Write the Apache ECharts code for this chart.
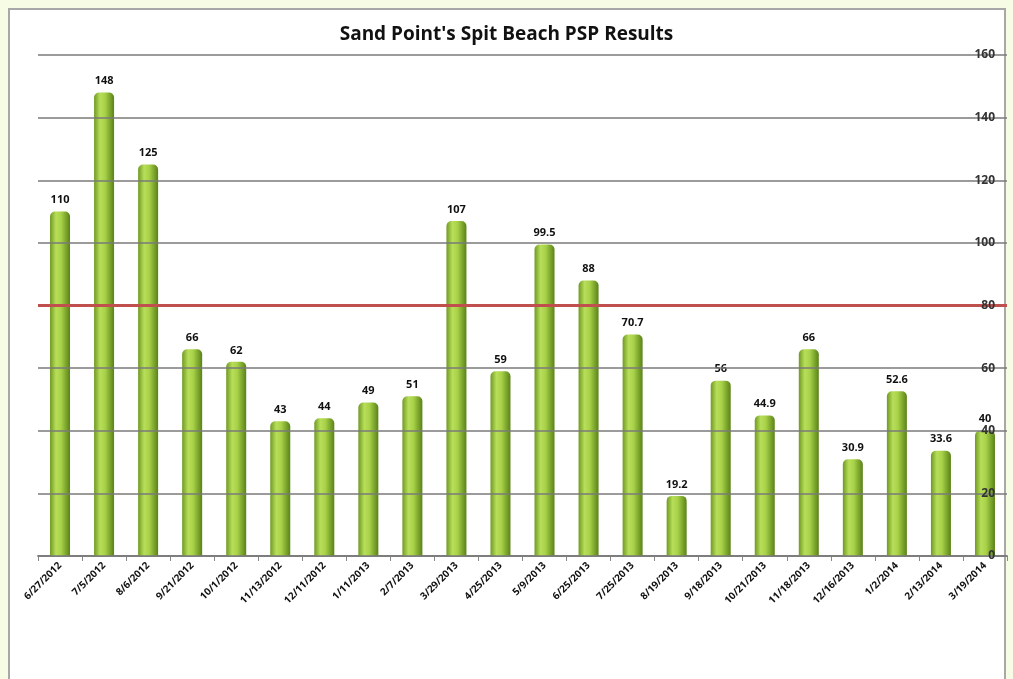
<!DOCTYPE html>
<html>
<head>
<meta charset="utf-8">
<script src="https://cdn.jsdelivr.net/npm/echarts@6/dist/echarts.min.js"></script>
<style>
  html, body { margin: 0; padding: 0; background: #f6fde4; }
  #chart { width: 1013px; height: 679px; }
</style>
</head>
<body>
<div id="chart"></div>
<script>
// sample dates and PSP results
var dates = ['6/27/2012', '7/5/2012', '8/6/2012', '9/21/2012', '10/1/2012', '11/13/2012',
  '12/11/2012', '1/11/2013', '2/7/2013', '3/29/2013', '4/25/2013', '5/9/2013', '6/25/2013',
  '7/25/2013', '8/19/2013', '9/18/2013', '10/21/2013', '11/18/2013', '12/16/2013',
  '1/2/2014', '2/13/2014', '3/19/2014'];
var results = [110, 148, 125, 66, 62, 43, 44, 49, 51, 107, 59, 99.5, 88, 70.7, 19.2, 56,
  44.9, 66, 30.9, 52.6, 33.6, 40];
var limit = 80; // closure level

var chart = echarts.init(document.getElementById('chart'));

var barColor = new echarts.graphic.LinearGradient(0, 0, 1, 0, [
  { offset: 0, color: '#6f9a22' },
  { offset: 0.3, color: '#b8de5a' },
  { offset: 0.55, color: '#a8d248' },
  { offset: 1, color: '#5a8218' }
]);

option = {
  backgroundColor: '#f6fde4',
  animation: false,
  graphic: [{
    type: 'rect',
    z: -1,
    shape: { x: 9, y: 9, width: 996, height: 690 },
    style: { fill: '#ffffff', stroke: '#a8a8a8', lineWidth: 2 }
  }],
  title: {
    text: "Sand Point's Spit Beach PSP Results",
    left: 'center',
    top: 20,
    textStyle: { fontFamily: 'Open Sans', fontWeight: 'bold', fontSize: 19, color: '#111' }
  },
  grid: { left: 38, right: 6, top: 55, bottom: 123 },
  xAxis: {
    type: 'category',
    data: dates,
    axisLine: { lineStyle: { color: '#888', width: 2 } },
    axisTick: { show: true, lineStyle: { color: '#888' } },
    axisLabel: {
      rotate: 45,
      interval: 0,
      fontFamily: 'Open Sans',
      fontWeight: 'bold',
      fontSize: 10,
      color: '#111',
      margin: 8
    }
  },
  yAxis: {
    type: 'value',
    position: 'right',
    z: 5,
    min: 0,
    max: 160,
    interval: 20,
    axisLine: { show: false },
    axisTick: { show: false },
    axisLabel: {
      inside: true,
      margin: 12,
      fontFamily: 'Open Sans',
      fontWeight: 'bold',
      fontSize: 12,
      color: '#333'
    },
    splitLine: { lineStyle: { color: '#7a7a7a', width: 1.5 } }
  },
  series: [{
    type: 'bar',
    data: results,
    barWidth: 20,
    itemStyle: { color: barColor, borderRadius: [5, 5, 0, 0] },
    label: {
      show: true,
      position: 'top',
      distance: 6,
      fontFamily: 'Open Sans',
      fontWeight: 'bold',
      fontSize: 11,
      color: '#111'
    },
    markLine: {
      silent: true,
      symbol: 'none',
      label: { show: false },
      lineStyle: { color: '#c0504d', width: 3, type: 'solid' },
      data: [{ yAxis: limit }]
    }
  }]
};

chart.setOption(option);
</script>
</body>
</html>
